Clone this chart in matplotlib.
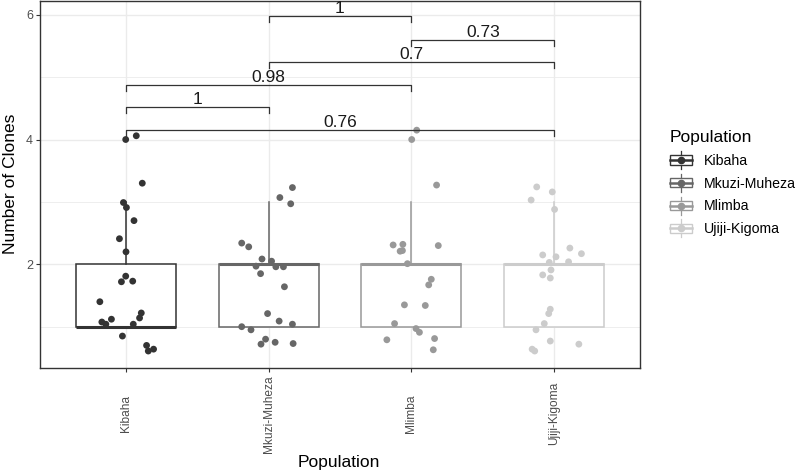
import numpy as np
import matplotlib.pyplot as plt
from matplotlib.lines import Line2D
from matplotlib.patches import Rectangle
from matplotlib.legend_handler import HandlerBase

plt.rcParams['font.family'] = ['Liberation Sans', 'DejaVu Sans']

# Groups and colours (grey scale, ggplot style)
populations = ['Kibaha', 'Mkuzi-Muheza', 'Mlimba', 'Ujiji-Kigoma']
colors = ['#333333', '#666666', '#999999', '#cccccc']

# Box statistics per group
q1 = [1, 1, 1, 1]
med = [1, 2, 2, 2]
q3 = [2, 2, 2, 2]
whislo = [1, 1, 1, 1]
whishi = [3, 3, 3, 3]

# Jittered points (x offset from group centre, y value)
kib_dx = [0.0, 0.074, 0.116, -0.016, 0.005, 0.058, -0.044, 0.002, 0.0, -0.03, 0.049,
          -0.181, 0.109, 0.097, -0.1, -0.167, -0.139, 0.053, -0.023, 0.146, 0.195, 0.158]
kib_y = [4.0, 4.06, 3.30, 2.99, 2.91, 2.70, 2.41, 2.20, 1.81, 1.72, 1.73,
         1.40, 1.22, 1.14, 1.12, 1.075, 1.04, 1.04, 0.85, 0.70, 0.64, 0.61]
mku_dx = [0.167, 0.079, 0.155, -0.188, -0.139, -0.046, 0.021, -0.088, 0.051, 0.104, -0.056,
          0.111, -0.007, 0.074, 0.167, -0.188, -0.123, -0.021, -0.053, 0.046, 0.172]
mku_y = [3.23, 3.07, 2.97, 2.34, 2.28, 2.085, 2.05, 1.97, 1.96, 1.96, 1.85,
         1.64, 1.21, 1.09, 1.04, 1.0, 0.95, 0.80, 0.72, 0.75, 0.73]
mli_dx = [0.037, 0.002, 0.176, -0.128, -0.06, 0.188, -0.079, -0.063, -0.028, 0.139,
          0.121, -0.049, 0.097, -0.118, 0.032, 0.056, -0.172, 0.162, 0.153]
mli_y = [4.15, 4.0, 3.27, 2.31, 2.32, 2.30, 2.21, 2.22, 2.01, 1.76,
         1.67, 1.35, 1.34, 1.05, 0.97, 0.91, 0.79, 0.81, 0.63]
uji_dx = [-0.123, -0.014, -0.162, 0.002, 0.109, 0.19, -0.081, 0.012, -0.035, 0.1, -0.023,
          -0.081, -0.028, -0.028, -0.039, -0.07, -0.128, -0.028, 0.172, -0.155, -0.137]
uji_y = [3.24, 3.16, 3.03, 2.88, 2.26, 2.17, 2.15, 2.12, 2.03, 2.04, 1.91,
         1.83, 1.78, 1.28, 1.21, 1.05, 0.95, 0.77, 0.72, 0.64, 0.61]
points_dx = [kib_dx, mku_dx, mli_dx, uji_dx]
points_y = [kib_y, mku_y, mli_y, uji_y]

# Significance brackets
br_from = [1, 1, 1, 2, 3, 2]
br_to = [4, 2, 3, 4, 4, 3]
br_y = [4.15, 4.52, 4.87, 5.24, 5.59, 5.98]
br_label = ['0.76', '1', '0.98', '0.7', '0.73', '1']


class BoxKey(HandlerBase):
    def create_artists(self, legend, orig_handle, xdescent, ydescent,
                       width, height, fontsize, trans):
        c = orig_handle.get_color()
        x0, y0 = -xdescent, -ydescent
        cx, cy = x0 + width / 2, y0 + height / 2
        whisk = Line2D([cx, cx], [cy - 6.5, cy + 6.5], color=c, lw=0.9, transform=trans)
        box = Rectangle((x0, cy - 3.4), width, 6.8, fc='white', ec=c, lw=1.0, transform=trans)
        mline = Line2D([x0, x0 + width], [cy, cy], color=c, lw=1.8, transform=trans)
        dot = Line2D([cx], [cy], marker='o', ms=4.5, color=c, lw=0, transform=trans)
        return [whisk, box, mline, dot]


W, H = 797, 470
fig = plt.figure(figsize=(W / 100, H / 100), dpi=100)
ax = fig.add_axes([40 / W, (H - 368) / H, 600 / W, 367 / H])

pos = np.arange(1, len(populations) + 1)
stats = [dict(med=med[i], q1=q1[i], q3=q3[i], whislo=whislo[i], whishi=whishi[i])
         for i in range(len(populations))]
bp = ax.bxp(stats, positions=pos, widths=0.7, showfliers=False, showcaps=False,
            patch_artist=True, zorder=2)
for i, c in enumerate(colors):
    bp['boxes'][i].set(facecolor='white', edgecolor=c, linewidth=1.1)
    bp['medians'][i].set(color=c, linewidth=2.2)
    for w in bp['whiskers'][2 * i:2 * i + 2]:
        w.set(color=c, linewidth=1.1)

for i, c in enumerate(colors):
    ax.scatter(pos[i] + np.array(points_dx[i]), points_y[i], s=24, color=c,
               edgecolor='none', zorder=3)

tip = 0.09
for a, b, y, lab in zip(br_from, br_to, br_y, br_label):
    ax.plot([a, a, b, b], [y - tip, y, y, y - tip], color='#333333', lw=0.9, zorder=4)
    ax.text((a + b) / 2, y, lab, ha='center', va='bottom', fontsize=12.5, color='#1a1a1a')

ax.set_xlim(0.4, 4.6)
ax.set_ylim(0.338, 6.22)
ax.set_yticks([2, 4, 6])
ax.set_yticks([1, 3, 5], minor=True)
ax.set_xticks(pos, populations, rotation=90, va='center')
ax.grid(True, which='major', color='#ebebeb', lw=1.0, zorder=0)
ax.grid(True, which='minor', axis='y', color='#ebebeb', lw=0.6, zorder=0)
ax.set_axisbelow(True)
ax.tick_params(axis='x', length=3, width=0.8, color='#333333', labelsize=8.6,
               labelcolor='#4d4d4d', pad=30)
ax.tick_params(axis='y', length=3, width=0.8, color='#333333', labelsize=9,
               labelcolor='#4d4d4d', pad=2)
ax.tick_params(axis='y', which='minor', length=0)
for s in ax.spines.values():
    s.set_color('#333333')
    s.set_linewidth(1.0)

fig.text(339 / W, 1 - 462 / H, 'Population', ha='center', va='center', fontsize=12.5)
fig.text(11 / W, 1 - 184 / H, 'Number of Clones', ha='center', va='center',
         rotation=90, fontsize=12.5)

handles = [Line2D([], [], color=c) for c in colors]
leg = fig.legend(handles, populations, handler_map={Line2D: BoxKey()},
                 loc='center left', bbox_to_anchor=(664 / W, 1 - 183 / H),
                 frameon=False, title='Population', title_fontsize=12.5, fontsize=10.2,
                 handlelength=1.55, handleheight=1.2, handletextpad=0.85,
                 labelspacing=0.55, borderaxespad=0)
leg._legend_box.align = 'left'

fig.savefig('out.png', dpi=100)
